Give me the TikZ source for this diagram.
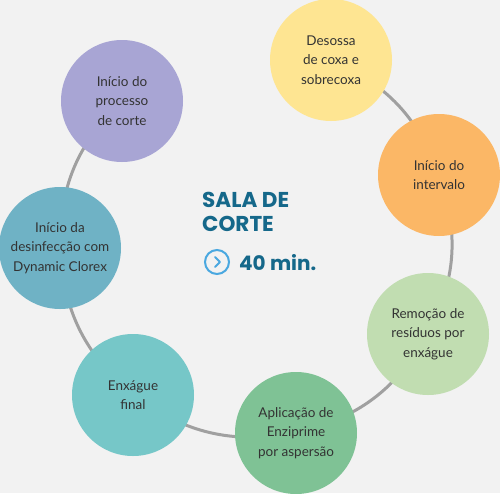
\documentclass[tikz,border=0pt]{standalone}
\usepackage{fontspec}
\setmainfont{Lato}
\newfontfamily\titlefont{Poppins}
\pgfdeclarelayer{background}
\pgfsetlayers{background,main}
\definecolor{bgc}{HTML}{F2F2F2}
\definecolor{linec}{HTML}{A0A0A0}
\definecolor{cpurple}{HTML}{A8A5D4}
\definecolor{cyellow}{HTML}{FEE592}
\definecolor{corange}{HTML}{FBB766}
\definecolor{clgreen}{HTML}{C1DDB1}
\definecolor{cgreen}{HTML}{7FC295}
\definecolor{cteal}{HTML}{76C7C8}
\definecolor{cblue}{HTML}{6FB2C5}
\definecolor{titlec}{HTML}{15688A}
\definecolor{iconc}{HTML}{4AA8E0}
\definecolor{txtc}{HTML}{333333}
\tikzset{
  stepcirc/.style={circle, minimum size=122pt, inner sep=0pt, align=center,
    font=\fontsize{13.5}{19.5}\selectfont, text=txtc},
  link/.style={draw=linec, line width=3pt},
}
\begin{document}
\begin{tikzpicture}[x=1pt,y=-1pt]
\useasboundingbox (0,0) rectangle (500,493);
\node[stepcirc, fill=cpurple] (p) at (122,101) {Início do\\processo\\de corte};
\node[stepcirc, fill=cyellow] (y) at (331,60) {Desossa\\de coxa e\\sobrecoxa};
\node[stepcirc, fill=corange] (o) at (439,175) {Início do\\intervalo};
\node[stepcirc, fill=clgreen] (lg) at (428,334) {Remoção de\\resíduos por\\enxágue};
\node[stepcirc, fill=cgreen] (g) at (296,433) {Aplicação de\\Enziprime\\por aspersão};
\node[stepcirc, fill=cteal] (t) at (133,395) {Enxágue\\final};
\node[stepcirc, fill=cblue] (b) at (60,248) {Início da\\desinfecção com\\Dynamic Clorex};
\begin{pgfonlayer}{background}
\fill[bgc] (0,0) rectangle (500,493);
\draw[link] (y.center) to[bend left=23] (o.center);
\draw[link] (o.center) to[bend left=23] (lg.center);
\draw[link] (lg.center) to[bend left=23] (g.center);
\draw[link] (g.center) to[bend left=23] (t.center);
\draw[link] (t.center) to[bend left=23] (b.center);
\draw[link] (b.center) to[bend left=23] (p.center);
\end{pgfonlayer}
\node[anchor=base west, inner sep=0pt, align=left, text=titlec,
  font=\titlefont\fontsize{21.5}{24}\selectfont\bfseries] (title) at (202,231) {SALA DE\\CORTE};
\node[circle, draw=iconc, line width=2pt, minimum size=24pt, inner sep=0pt] (icon) at (217,262) {};
\draw[iconc, line width=2pt, line cap=round, line join=round]
  ([xshift=-2pt,yshift=5pt]icon.center) -- ([xshift=3pt]icon.center) -- ([xshift=-2pt,yshift=-5pt]icon.center);
\node[anchor=base west, inner sep=0pt, text=titlec,
  font=\titlefont\fontsize{20}{20}\selectfont\bfseries] (time) at (239,270) {40 min.};
\end{tikzpicture}
\end{document}
